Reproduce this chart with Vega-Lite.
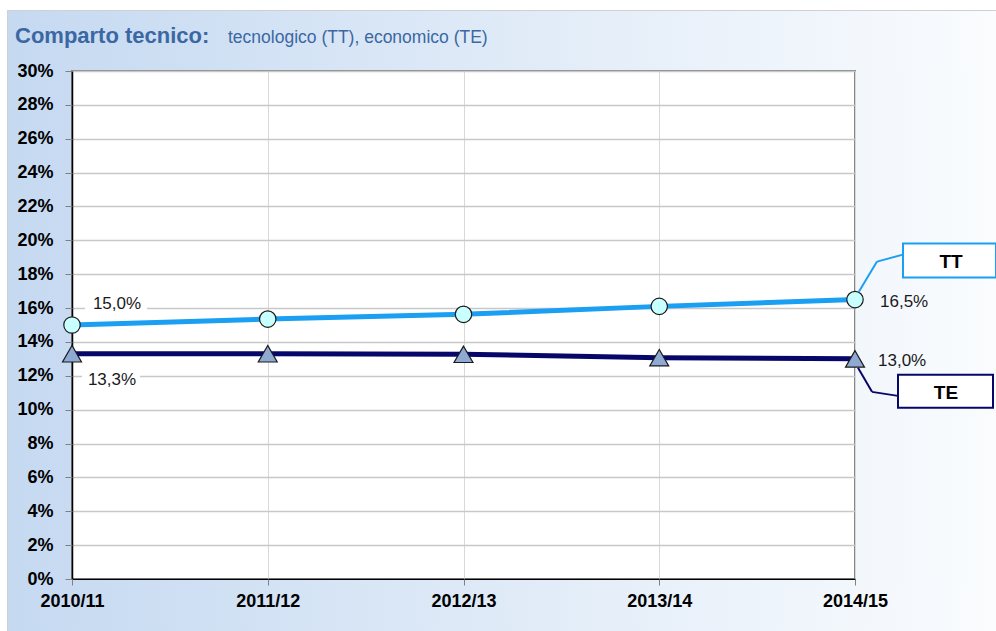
{
  "$schema": "https://vega.github.io/schema/vega-lite/v6.json",
  "width": 783,
  "height": 508,
  "autosize": {"type": "pad"},
  "padding": {"left": 6, "top": 9, "right": 0, "bottom": 0},
  "background": "white",
  "config": {
    "view": {"stroke": "#868686", "strokeWidth": 2, "fill": "white"},
    "locale": {"number": {"decimal": ",", "thousands": ".", "grouping": [3], "currency": ["", " €"]}},
    "font": "Liberation Sans"
  },
  "datasets": {
    "rates": [
      {"season": "2010/11", "series": "TT", "value": 0.150},
      {"season": "2011/12", "series": "TT", "value": 0.1535},
      {"season": "2012/13", "series": "TT", "value": 0.1563},
      {"season": "2013/14", "series": "TT", "value": 0.1610},
      {"season": "2014/15", "series": "TT", "value": 0.165},
      {"season": "2010/11", "series": "TE", "value": 0.133},
      {"season": "2011/12", "series": "TE", "value": 0.133},
      {"season": "2012/13", "series": "TE", "value": 0.1327},
      {"season": "2013/14", "series": "TE", "value": 0.1307},
      {"season": "2014/15", "series": "TE", "value": 0.130}
    ],
    "one": [{}]
  },
  "resolve": {"axis": {"x": "independent", "y": "independent"}},
  "layer": [
    {
      "data": {"name": "one"},
      "mark": {"type": "rect", "xOffset": -65, "x2Offset": 142, "yOffset": -61, "y2Offset": -1,
        "fill": {"gradient": "linear", "x1": 0, "y1": 0, "x2": 1, "y2": 0, "stops": [{"offset": 0, "color": "#c5d9f1"}, {"offset": 1, "color": "#fafcfe"}]}},
      "encoding": {
        "x": {"datum": "2010/11", "type": "ordinal", "axis": null},
        "x2": {"datum": "2014/15"},
        "y": {"datum": 0.3, "type": "quantitative", "axis": null},
        "y2": {"datum": 0.3}
      }
    },
    {
      "data": {"name": "one"},
      "mark": {"type": "rect", "xOffset": -65, "x2Offset": 142, "yOffset": 1, "y2Offset": 53,
        "fill": {"gradient": "linear", "x1": 0, "y1": 0, "x2": 1, "y2": 0, "stops": [{"offset": 0, "color": "#c5d9f1"}, {"offset": 1, "color": "#fafcfe"}]}},
      "encoding": {
        "x": {"datum": "2010/11", "type": "ordinal", "axis": null},
        "x2": {"datum": "2014/15"},
        "y": {"datum": 0, "type": "quantitative", "axis": null},
        "y2": {"datum": 0}
      }
    },
    {
      "data": {"name": "one"},
      "mark": {"type": "rect", "xOffset": -65, "x2Offset": -1, "yOffset": -1, "y2Offset": 1,
        "fill": {"gradient": "linear", "x1": 0, "y1": 0, "x2": 1, "y2": 0, "stops": [{"offset": 0, "color": "#c5d9f1"}, {"offset": 1, "color": "#c8dbf2"}]}},
      "encoding": {
        "x": {"datum": "2010/11", "type": "ordinal", "axis": null},
        "x2": {"datum": "2010/11"},
        "y": {"datum": 0.3, "type": "quantitative", "axis": null},
        "y2": {"datum": 0}
      }
    },
    {
      "data": {"name": "one"},
      "mark": {"type": "rect", "xOffset": 1, "x2Offset": 142, "yOffset": -1, "y2Offset": 1,
        "fill": {"gradient": "linear", "x1": 0, "y1": 0, "x2": 1, "y2": 0, "stops": [{"offset": 0, "color": "#f2f7fc"}, {"offset": 1, "color": "#fafcfe"}]}},
      "encoding": {
        "x": {"datum": "2014/15", "type": "ordinal", "axis": null},
        "x2": {"datum": "2014/15"},
        "y": {"datum": 0.3, "type": "quantitative", "axis": null},
        "y2": {"datum": 0}
      }
    },
    {
      "data": {"name": "one"},
      "mark": {"type": "rule", "xOffset": -65, "x2Offset": 142, "yOffset": -60.5, "stroke": "#d0d0d0", "strokeWidth": 1},
      "encoding": {
        "x": {"datum": "2010/11", "type": "ordinal", "axis": null},
        "x2": {"datum": "2014/15"},
        "y": {"datum": 0.3, "type": "quantitative", "axis": null}
      }
    },
    {
      "data": {"name": "one"},
      "mark": {"type": "rule", "xOffset": -64.5, "yOffset": -61, "y2Offset": 53, "stroke": "#d0d0d0", "strokeWidth": 1},
      "encoding": {
        "x": {"datum": "2010/11", "type": "ordinal", "axis": null},
        "y": {"datum": 0.3, "type": "quantitative", "axis": null},
        "y2": {"datum": 0}
      }
    },
    {
      "data": {"name": "one"},
      "mark": {"type": "text", "align": "left", "baseline": "alphabetic", "dx": -57, "dy": -28, "font": "Liberation Sans", "fontSize": 22, "fontWeight": "bold", "color": "#3b68a2"},
      "encoding": {
        "x": {"datum": "2010/11", "type": "ordinal", "axis": null},
        "y": {"datum": 0.3, "type": "quantitative", "axis": null},
        "text": {"value": "Comparto tecnico:"}
      }
    },
    {
      "data": {"name": "one"},
      "mark": {"type": "text", "align": "left", "baseline": "alphabetic", "dx": 156, "dy": -28, "font": "Liberation Sans", "fontSize": 17.5, "fontWeight": "normal", "color": "#3b68a2"},
      "encoding": {
        "x": {"datum": "2010/11", "type": "ordinal", "axis": null},
        "y": {"datum": 0.3, "type": "quantitative", "axis": null},
        "text": {"value": "tecnologico (TT), economico (TE)"}
      }
    },
    {
      "data": {"name": "rates"},
      "mark": {"type": "line", "strokeWidth": 5},
      "encoding": {
        "x": {"field": "season", "type": "ordinal",
          "scale": {"type": "point", "padding": 0, "domain": ["2010/11", "2011/12", "2012/13", "2013/14", "2014/15"]},
          "axis": {"orient": "bottom", "title": null, "grid": true, "gridColor": "#d9d9d9", "gridWidth": 1, "labels": false, "ticks": false, "domain": true, "domainColor": "#000000", "domainWidth": 1.5, "zindex": 0}},
        "y": {"field": "value", "type": "quantitative",
          "scale": {"domain": [0, 0.3], "nice": false, "zero": true},
          "axis": {"orient": "left", "title": null, "grid": true, "gridColor": "#c8c8c8", "gridWidth": 1.5, "labels": false, "ticks": false, "domain": true, "domainColor": "#000000", "domainWidth": 1.5, "zindex": 0,
            "values": [0, 0.02, 0.04, 0.06, 0.08, 0.1, 0.12, 0.14, 0.16, 0.18, 0.2, 0.22, 0.24, 0.26, 0.28, 0.3]}},
        "color": {"field": "series", "type": "nominal", "scale": {"domain": ["TT", "TE"], "range": ["#1a9ff2", "#07076a"]}, "legend": null}
      }
    },
    {
      "data": {"name": "rates"},
      "transform": [{"filter": "datum.series == 'TT' && datum.season == '2010/11'"}],
      "mark": {"type": "rect", "fill": "white", "xOffset": 13, "x2Offset": 75, "yOffset": -30, "y2Offset": -12},
      "encoding": {
        "x": {"field": "season", "type": "ordinal", "axis": null},
        "x2": {"field": "season"},
        "y": {"field": "value", "type": "quantitative", "axis": null},
        "y2": {"field": "value"}
      }
    },
    {
      "data": {"name": "rates"},
      "transform": [{"filter": "datum.series == 'TE' && datum.season == '2010/11'"}],
      "mark": {"type": "rect", "fill": "white", "xOffset": 10, "x2Offset": 68, "yOffset": 16, "y2Offset": 35},
      "encoding": {
        "x": {"field": "season", "type": "ordinal", "axis": null},
        "x2": {"field": "season"},
        "y": {"field": "value", "type": "quantitative", "axis": null},
        "y2": {"field": "value"}
      }
    },
    {
      "data": {"name": "rates"},
      "transform": [{"filter": "datum.series == 'TT'"}],
      "mark": {"type": "point", "shape": "circle", "filled": true, "fill": "#c8ffff", "stroke": "#1a1a1a", "strokeWidth": 1.2, "size": 270, "opacity": 1},
      "encoding": {
        "x": {"field": "season", "type": "ordinal",
          "axis": {"orient": "bottom", "title": null, "grid": false, "domain": false, "ticks": true, "tickColor": "#808080", "tickSize": 6, "labelFont": "Liberation Sans", "labelFontWeight": "bold", "labelFontSize": 18, "labelColor": "#000000", "labelPadding": 7, "labelAngle": 0, "zindex": 1}},
        "y": {"field": "value", "type": "quantitative",
          "axis": {"orient": "left", "title": null, "grid": false, "domain": false, "ticks": true, "tickColor": "#808080", "tickSize": 7, "labelFont": "Liberation Sans", "labelFontWeight": "bold", "labelFontSize": 18, "labelColor": "#000000", "labelPadding": 12, "format": ".0%", "zindex": 1,
            "values": [0, 0.02, 0.04, 0.06, 0.08, 0.1, 0.12, 0.14, 0.16, 0.18, 0.2, 0.22, 0.24, 0.26, 0.28, 0.3]}}
      }
    },
    {
      "data": {"name": "rates"},
      "transform": [{"filter": "datum.series == 'TE'"}],
      "mark": {"type": "point", "shape": "triangle-up", "filled": true, "fill": "#8eaad2", "stroke": "#1a1a1a", "strokeWidth": 1.2, "size": 360, "opacity": 1},
      "encoding": {
        "x": {"field": "season", "type": "ordinal", "axis": null},
        "y": {"field": "value", "type": "quantitative", "axis": null}
      }
    },
    {
      "data": {"name": "rates"},
      "transform": [{"filter": "datum.series == 'TT' && datum.season == '2010/11'"}],
      "mark": {"type": "text", "align": "center", "baseline": "middle", "dx": 45, "dy": -21, "font": "Liberation Sans", "fontSize": 17, "color": "#1a1a1a"},
      "encoding": {
        "x": {"field": "season", "type": "ordinal", "axis": null},
        "y": {"field": "value", "type": "quantitative", "axis": null},
        "text": {"field": "value", "type": "quantitative", "format": ".1%"}
      }
    },
    {
      "data": {"name": "rates"},
      "transform": [{"filter": "datum.series == 'TE' && datum.season == '2010/11'"}],
      "mark": {"type": "text", "align": "center", "baseline": "middle", "dx": 40, "dy": 26, "font": "Liberation Sans", "fontSize": 17, "color": "#1a1a1a"},
      "encoding": {
        "x": {"field": "season", "type": "ordinal", "axis": null},
        "y": {"field": "value", "type": "quantitative", "axis": null},
        "text": {"field": "value", "type": "quantitative", "format": ".1%"}
      }
    },
    {
      "data": {"name": "rates"},
      "transform": [{"filter": "datum.series == 'TT' && datum.season == '2014/15'"}],
      "mark": {"type": "text", "align": "left", "baseline": "middle", "dx": 25, "dy": 2, "font": "Liberation Sans", "fontSize": 17, "color": "#1a1a1a"},
      "encoding": {
        "x": {"field": "season", "type": "ordinal", "axis": null},
        "y": {"field": "value", "type": "quantitative", "axis": null},
        "text": {"field": "value", "type": "quantitative", "format": ".1%"}
      }
    },
    {
      "data": {"name": "rates"},
      "transform": [{"filter": "datum.series == 'TE' && datum.season == '2014/15'"}],
      "mark": {"type": "text", "align": "left", "baseline": "middle", "dx": 23, "dy": 2, "font": "Liberation Sans", "fontSize": 17, "color": "#1a1a1a"},
      "encoding": {
        "x": {"field": "season", "type": "ordinal", "axis": null},
        "y": {"field": "value", "type": "quantitative", "axis": null},
        "text": {"field": "value", "type": "quantitative", "format": ".1%"}
      }
    },
    {
      "data": {"name": "rates"},
      "transform": [{"filter": "datum.series == 'TT' && datum.season == '2014/15'"}],
      "mark": {"type": "rule", "stroke": "#1a9ff2", "strokeWidth": 2, "xOffset": 4, "x2Offset": 22, "yOffset": -8, "y2Offset": -38},
      "encoding": {
        "x": {"field": "season", "type": "ordinal", "axis": null},
        "x2": {"field": "season"},
        "y": {"field": "value", "type": "quantitative", "axis": null},
        "y2": {"field": "value"}
      }
    },
    {
      "data": {"name": "rates"},
      "transform": [{"filter": "datum.series == 'TT' && datum.season == '2014/15'"}],
      "mark": {"type": "rule", "stroke": "#1a9ff2", "strokeWidth": 2, "xOffset": 22, "x2Offset": 48, "yOffset": -38, "y2Offset": -45},
      "encoding": {
        "x": {"field": "season", "type": "ordinal", "axis": null},
        "x2": {"field": "season"},
        "y": {"field": "value", "type": "quantitative", "axis": null},
        "y2": {"field": "value"}
      }
    },
    {
      "data": {"name": "rates"},
      "transform": [{"filter": "datum.series == 'TE' && datum.season == '2014/15'"}],
      "mark": {"type": "rule", "stroke": "#07076a", "strokeWidth": 2, "xOffset": 3, "x2Offset": 17, "yOffset": 9, "y2Offset": 33},
      "encoding": {
        "x": {"field": "season", "type": "ordinal", "axis": null},
        "x2": {"field": "season"},
        "y": {"field": "value", "type": "quantitative", "axis": null},
        "y2": {"field": "value"}
      }
    },
    {
      "data": {"name": "rates"},
      "transform": [{"filter": "datum.series == 'TE' && datum.season == '2014/15'"}],
      "mark": {"type": "rule", "stroke": "#07076a", "strokeWidth": 2, "xOffset": 17, "x2Offset": 43, "yOffset": 33, "y2Offset": 37},
      "encoding": {
        "x": {"field": "season", "type": "ordinal", "axis": null},
        "x2": {"field": "season"},
        "y": {"field": "value", "type": "quantitative", "axis": null},
        "y2": {"field": "value"}
      }
    },
    {
      "data": {"name": "rates"},
      "transform": [{"filter": "datum.series == 'TT' && datum.season == '2014/15'"}],
      "mark": {"type": "rect", "fill": "white", "stroke": "#1a9ff2", "strokeWidth": 2, "xOffset": 48, "x2Offset": 141, "yOffset": -56, "y2Offset": -22},
      "encoding": {
        "x": {"field": "season", "type": "ordinal", "axis": null},
        "x2": {"field": "season"},
        "y": {"field": "value", "type": "quantitative", "axis": null},
        "y2": {"field": "value"}
      }
    },
    {
      "data": {"name": "rates"},
      "transform": [{"filter": "datum.series == 'TE' && datum.season == '2014/15'"}],
      "mark": {"type": "rect", "fill": "white", "stroke": "#07076a", "strokeWidth": 2, "xOffset": 43, "x2Offset": 138, "yOffset": 16, "y2Offset": 49},
      "encoding": {
        "x": {"field": "season", "type": "ordinal", "axis": null},
        "x2": {"field": "season"},
        "y": {"field": "value", "type": "quantitative", "axis": null},
        "y2": {"field": "value"}
      }
    },
    {
      "data": {"name": "rates"},
      "transform": [{"filter": "datum.series == 'TT' && datum.season == '2014/15'"}],
      "mark": {"type": "text", "align": "center", "baseline": "middle", "dx": 96, "dy": -38, "font": "Liberation Sans", "fontSize": 19, "fontWeight": "bold", "color": "#000000"},
      "encoding": {
        "x": {"field": "season", "type": "ordinal", "axis": null},
        "y": {"field": "value", "type": "quantitative", "axis": null},
        "text": {"field": "series", "type": "nominal"}
      }
    },
    {
      "data": {"name": "rates"},
      "transform": [{"filter": "datum.series == 'TE' && datum.season == '2014/15'"}],
      "mark": {"type": "text", "align": "center", "baseline": "middle", "dx": 91, "dy": 34, "font": "Liberation Sans", "fontSize": 19, "fontWeight": "bold", "color": "#000000"},
      "encoding": {
        "x": {"field": "season", "type": "ordinal", "axis": null},
        "y": {"field": "value", "type": "quantitative", "axis": null},
        "text": {"field": "series", "type": "nominal"}
      }
    }
  ]
}
